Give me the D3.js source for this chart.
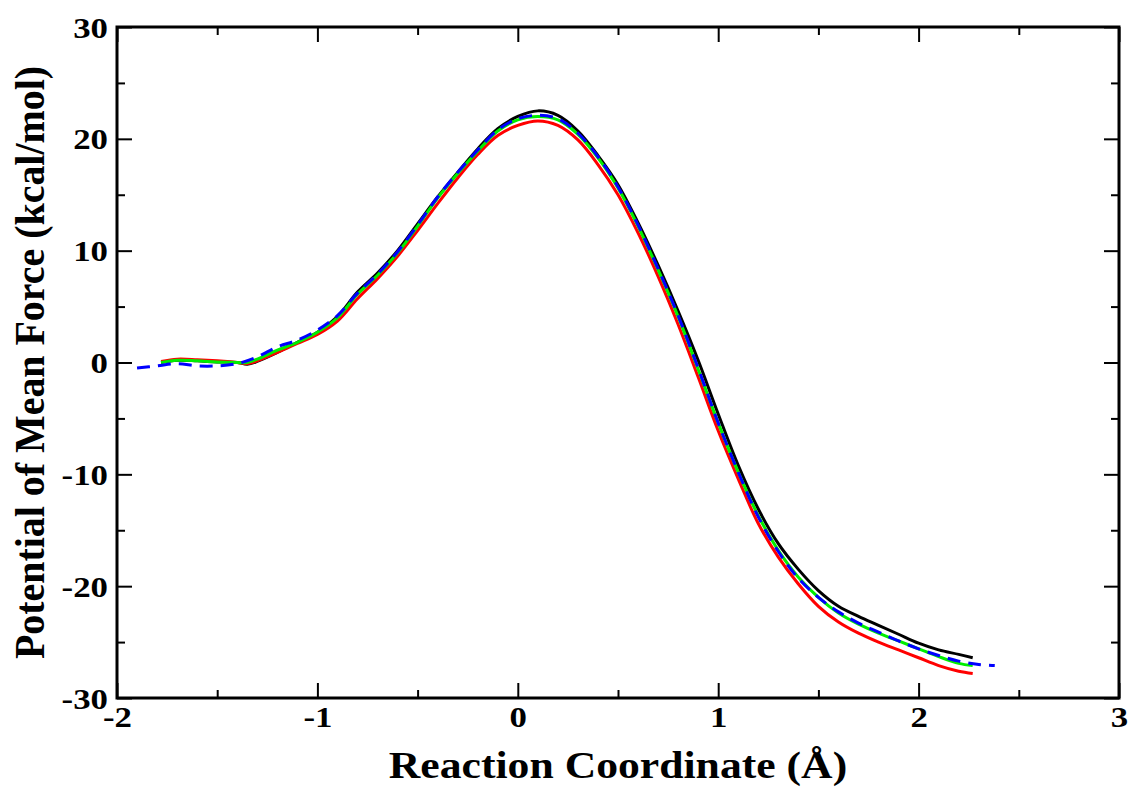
<!DOCTYPE html>
<html>
<head>
<meta charset="utf-8">
<script src="https://cdn.jsdelivr.net/npm/d3@7"></script>
<style>
    html, body { margin: 0; padding: 0; background: #fff; }
    svg text { font-family: "Liberation Serif", "Times New Roman", serif; font-weight: bold; fill: #000; }
</style>
</head>
<body>
<svg id="chart" width="1132" height="787"></svg>
<script>
(function() {
    'use strict';

    // Reaction coordinate grid shared by the three solid curves
    var xSolid = [-1.78, -1.7, -1.6, -1.5, -1.4, -1.35, -1.3, -1.2, -1.1, -1.0, -0.9, -0.8, -0.7, -0.6,
        -0.5, -0.4, -0.3, -0.2, -0.1, 0.0, 0.1, 0.2, 0.3, 0.4, 0.5, 0.6, 0.7, 0.8, 0.9, 1.0,
        1.1, 1.2, 1.3, 1.4, 1.5, 1.6, 1.7, 1.8, 1.9, 2.0, 2.1, 2.2, 2.27];

    var blackValues = [0.0, 0.2, 0.15, 0.05, 0.0, -0.15, 0.1, 0.9, 1.8, 2.7, 4.1, 6.3, 8.0, 10.0,
        12.4, 14.8, 17.0, 19.1, 20.9, 22.0, 22.5, 22.1, 20.7, 18.5, 15.9, 12.5, 8.7, 4.6, 0.2, -4.6,
        -9.2, -13.1, -16.2, -18.5, -20.4, -21.8, -22.7, -23.5, -24.3, -25.1, -25.7, -26.1, -26.4];

    var redValues = [0.1, 0.3, 0.25, 0.15, 0.0, -0.1, 0.15, 0.9, 1.7, 2.5, 3.7, 5.7, 7.5, 9.5,
        11.8, 14.2, 16.5, 18.6, 20.3, 21.2, 21.6, 21.2, 19.9, 17.7, 15.0, 11.6, 7.7, 3.4, -1.3, -6.1,
        -10.4, -14.4, -17.4, -19.8, -21.8, -23.2, -24.2, -25.0, -25.7, -26.4, -27.1, -27.6, -27.8];

    var greenValues = [0.0, 0.2, 0.15, 0.05, 0.0, 0.0, 0.3, 1.1, 1.8, 2.7, 4.0, 6.1, 7.8, 9.8,
        12.2, 14.7, 16.9, 18.9, 20.7, 21.7, 22.0, 21.7, 20.4, 18.3, 15.6, 12.2, 8.3, 4.1, -0.6, -5.4,
        -9.8, -13.7, -16.8, -19.2, -21.0, -22.4, -23.4, -24.2, -24.9, -25.6, -26.3, -26.9, -27.1];

    // Dashed blue curve has its own, wider grid
    var xBlue = [-1.9, -1.8, -1.7, -1.6, -1.5, -1.4, -1.3, -1.2, -1.1, -1.0, -0.9, -0.8, -0.7, -0.6,
        -0.5, -0.4, -0.3, -0.2, -0.1, 0.0, 0.1, 0.2, 0.3, 0.4, 0.5, 0.6, 0.7, 0.8, 0.9, 1.0,
        1.1, 1.2, 1.3, 1.4, 1.5, 1.6, 1.7, 1.8, 1.9, 2.0, 2.1, 2.2, 2.3, 2.38];

    var blueValues = [-0.5, -0.3, -0.1, -0.3, -0.3, -0.1, 0.5, 1.4, 2.0, 2.9, 4.2, 6.2, 7.9, 9.9,
        12.3, 14.8, 17.0, 19.0, 20.8, 21.8, 22.1, 21.8, 20.5, 18.4, 15.7, 12.3, 8.4, 4.2, -0.5, -5.4,
        -9.8, -13.8, -16.9, -19.3, -21.0, -22.3, -23.3, -24.1, -24.9, -25.6, -26.2, -26.7, -27.0, -27.1];

    var xTicks = [-2, -1, 0, 1, 2, 3];
    var yTicks = [-30, -20, -10, 0, 10, 20, 30];
    var xMinor = [-1.5, -0.5, 0.5, 1.5, 2.5];
    var yMinor = [-25, -15, -5, 5, 15, 25];

    var margin = { top: 27, right: 13, bottom: 89, left: 117 };
    var width = 1132 - margin.left - margin.right;
    var height = 787 - margin.top - margin.bottom;

    var svg = d3.select('#chart');
    var g = svg.append('g')
        .attr('transform', 'translate(' + margin.left + ',' + margin.top + ')');

    var x = d3.scaleLinear().domain([-2, 3]).range([0, width]);
    var y = d3.scaleLinear().domain([-30, 30]).range([height, 0]);

    var series = [
        { xs: xSolid, ys: blackValues, color: '#000000', dash: null },
        { xs: xSolid, ys: redValues, color: '#ff0000', dash: null },
        { xs: xSolid, ys: greenValues, color: '#00ee00', dash: null },
        { xs: xBlue, ys: blueValues, color: '#0000ff', dash: '13,8' }
    ];

    var line = d3.line()
        .x(function(d) { return x(d[0]); })
        .y(function(d) { return y(d[1]); })
        .curve(d3.curveCatmullRom.alpha(0.5));

    series.forEach(function(s) {
        var pts = s.xs.map(function(v, i) { return [v, s.ys[i]]; });
        g.append('path')
            .datum(pts)
            .attr('d', line)
            .style('fill', 'none')
            .style('stroke', s.color)
            .style('stroke-width', 3)
            .style('stroke-dasharray', s.dash);
    });

    // ticks, inward on all four sides
    function tickSet(axis, size) {
        return axis.tickSize(-size).tickSizeOuter(0);
    }

    var bottom = g.append('g').attr('transform', 'translate(0,' + height + ')')
        .call(tickSet(d3.axisBottom(x).tickValues(xTicks), 15));
    g.append('g').attr('transform', 'translate(0,' + height + ')')
        .call(tickSet(d3.axisBottom(x).tickValues(xMinor).tickFormat(''), 8));
    g.append('g')
        .call(tickSet(d3.axisTop(x).tickValues(xTicks).tickFormat(''), 15));
    g.append('g')
        .call(tickSet(d3.axisTop(x).tickValues(xMinor).tickFormat(''), 8));

    var left = g.append('g')
        .call(tickSet(d3.axisLeft(y).tickValues(yTicks), 15));
    g.append('g')
        .call(tickSet(d3.axisLeft(y).tickValues(yMinor).tickFormat(''), 8));
    g.append('g').attr('transform', 'translate(' + width + ',0)')
        .call(tickSet(d3.axisRight(y).tickValues(yTicks).tickFormat(''), 15));
    g.append('g').attr('transform', 'translate(' + width + ',0)')
        .call(tickSet(d3.axisRight(y).tickValues(yMinor).tickFormat(''), 8));

    g.selectAll('.domain').remove();
    g.selectAll('.tick line').style('stroke', '#000').style('stroke-width', 2);

    // the source figure's lettering is a little wider than tall
    var label = function(d) { return d < 0 ? '-' + Math.abs(d) : String(d); };

    bottom.selectAll('.tick text')
        .attr('x', null)
        .attr('y', null)
        .attr('dy', null)
        .attr('transform', 'translate(0,29) scale(1.2,1)')
        .attr('text-anchor', 'middle')
        .style('font-size', '29px')
        .text(label);
    left.selectAll('.tick text')
        .attr('x', null)
        .attr('dy', null)
        .attr('transform', 'translate(-9,10) scale(1.2,1)')
        .attr('text-anchor', 'end')
        .style('font-size', '29px')
        .text(label);

    // frame
    g.append('rect')
        .attr('width', width)
        .attr('height', height)
        .style('fill', 'none')
        .style('stroke', '#000')
        .style('stroke-width', 3);

    svg.append('text')
        .attr('transform', 'translate(' + (margin.left + width / 2) + ',778) scale(1.12,1)')
        .attr('text-anchor', 'middle')
        .style('font-size', '39px')
        .text('Reaction Coordinate (Å)');

    svg.append('text')
        .attr('transform', 'translate(44,' + (margin.top + height / 2) + ') rotate(-90) scale(1.05,1.1)')
        .attr('text-anchor', 'middle')
        .style('font-size', '38px')
        .text('Potential of Mean Force (kcal/mol)');
})();
</script>
</body>
</html>
